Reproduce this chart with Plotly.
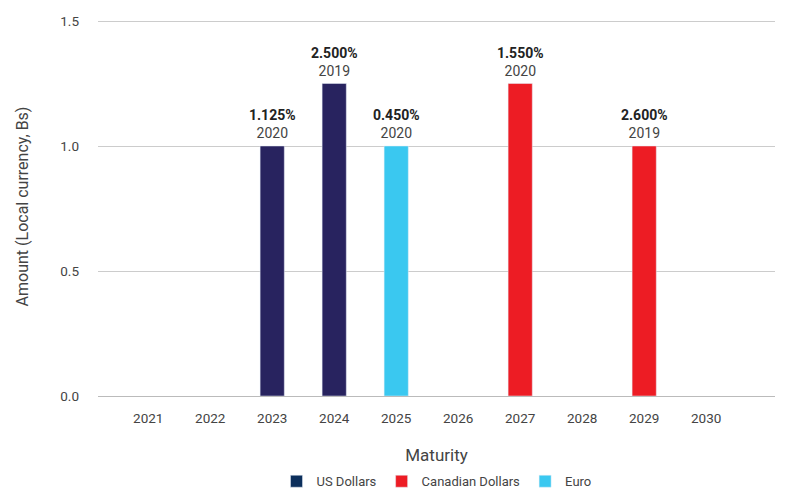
import plotly.graph_objects as go

categories = ["2021", "2022", "2023", "2024", "2025", "2026", "2027", "2028", "2029", "2030"]
usd_years = ["2023", "2024"]
usd_values = [1.0, 1.25]
usd_rates = ["1.125%", "2.500%"]
usd_issued = ["2020", "2019"]
eur_years = ["2025"]
eur_values = [1.0]
eur_rates = ["0.450%"]
eur_issued = ["2020"]
cad_years = ["2027", "2029"]
cad_values = [1.25, 1.0]
cad_rates = ["1.550%", "2.600%"]
cad_issued = ["2020", "2019"]

FONT = "Roboto"
fig = go.Figure()

series = [
    ("US Dollars", usd_years, usd_values, usd_rates, usd_issued, "#28235f", "#0c2f5c"),
    ("Canadian Dollars", cad_years, cad_values, cad_rates, cad_issued, "#ed1c24", "#ed1c24"),
    ("Euro", eur_years, eur_values, eur_rates, eur_issued, "#3ac8f0", "#3ac8f0"),
]

annotations = []
for name, xs, ys, rates, issued, color, legcolor in series:
    fig.add_trace(go.Bar(
        x=xs, y=ys, name=name, marker_color=color, width=0.39,
        showlegend=False, legendgroup=name, hoverinfo="x+y",
    ))
    for x, y, r, iss in zip(xs, ys, rates, issued):
        annotations.append(dict(
            x=categories.index(x), y=y, xref="x", yref="y",
            text=f"<b><span style='color:#222222'>{r}</span></b><br>{iss}", showarrow=False,
            yanchor="bottom", yshift=3,
            font=dict(family=FONT, size=14, color="#444444"),
        ))

for name, xs, ys, rates, issued, color, legcolor in series:
    fig.add_trace(go.Bar(
        x=[xs[0]], y=[0], name=name, marker_color=legcolor, showlegend=True,
        legendgroup=name, width=0.0001, hoverinfo="skip",
    ))

fig.update_layout(
    width=785, height=488,
    margin=dict(l=90, r=18, t=9, b=100, autoexpand=False),
    barmode="overlay",
    plot_bgcolor="white", paper_bgcolor="white",
    font=dict(family=FONT, size=12, color="#444444"),
    showlegend=True,
    annotations=annotations,
    legend=dict(orientation="h", x=0.5, xanchor="center", y=-0.225, yanchor="middle",
                font=dict(family=FONT, size=13, color="#444444"),
                itemwidth=30, traceorder="normal"),
    xaxis=dict(
        type="category", categoryorder="array", categoryarray=categories,
        tickvals=categories, range=[-0.81, 10.11],
        showgrid=False, showline=False, ticks="", ticklabelstandoff=12,
        tickfont=dict(family=FONT, size=13.5, color="#444444"),
        title=dict(text="Maturity", font=dict(family=FONT, size=17, color="#444444"), standoff=24),
    ),
    yaxis=dict(
        range=[0, 1.516], tickvals=[0, 0.5, 1.0, 1.5], ticktext=["0.0", "0.5", "1.0", "1.5"],
        showgrid=True, gridcolor="#cccccc", gridwidth=1,
        zeroline=True, zerolinecolor="#bbbbbb", zerolinewidth=1,
        showline=False, ticks="", ticklabelstandoff=18,
        tickfont=dict(family=FONT, size=13.5, color="#444444"),
        title=dict(text="Amount (Local currency, Bs)", font=dict(family=FONT, size=16, color="#444444"), standoff=27),
    ),
)

fig.write_html("out.html")
